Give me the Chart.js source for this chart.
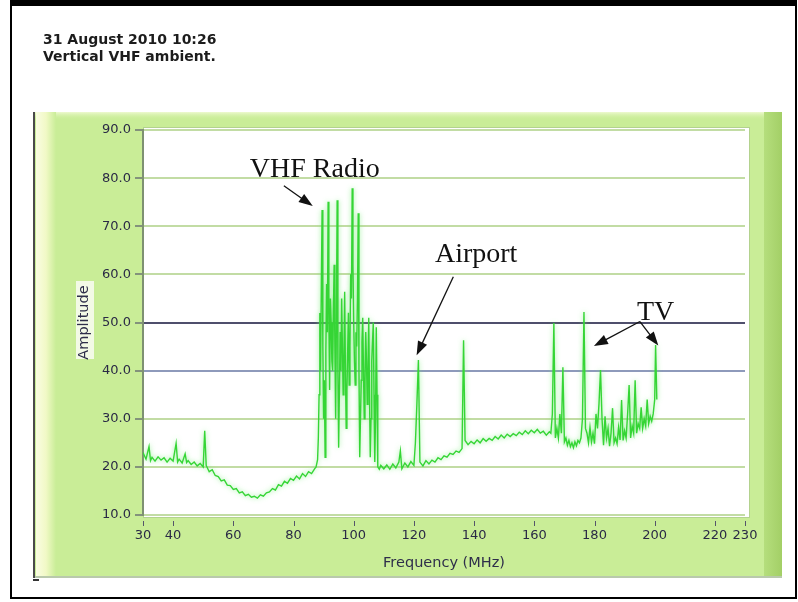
<!DOCTYPE html>
<html>
<head>
<meta charset="utf-8">
<script src="https://cdn.jsdelivr.net/npm/chart.js@4.4.1/dist/chart.umd.min.js"></script>
<style>
  html, body { margin: 0; padding: 0; background: #fff; }
  body { width: 798px; height: 602px; position: relative; overflow: hidden; }
  #frame { position: absolute; left: 10px; top: 0; width: 783px; height: 591px;
           border-top: 6px solid #000; border-left: 2px solid #000;
           border-right: 2px solid #000; border-bottom: 2px solid #000; }
  #hdr { position: absolute; left: 43px; top: 31px; font: bold 14px "DejaVu Sans", sans-serif;
         line-height: 16.5px; color: #1c1c1c; z-index: 2; }
  #dash { position: absolute; left: 33px; top: 579px; width: 6px; height: 2px; background: #333; }
  canvas { position: absolute; left: 0; top: 0; }
</style>
</head>
<body>
<div id="frame"></div>
<div id="hdr">31 August 2010 10:26<br>Vertical VHF ambient.</div>
<div id="dash"></div>
<canvas id="spec" width="798" height="602"></canvas>
<script>
// --- spectrum trace (MHz / amplitude) ---
const freqMHz = [
  30, 31, 32, 32.5, 33, 34, 35, 36, 37, 38, 39, 40, 41, 41.5, 42, 43, 44, 44.5, 45, 46,
  47, 48, 49, 50, 50.5, 51, 52, 53, 54, 55, 56, 57, 58, 59, 60, 61, 62, 63, 64, 65,
  66, 67, 68, 69, 70, 71, 72, 73, 74, 75, 76, 77, 78, 79, 80, 81, 82, 83, 84, 85,
  86, 87, 87.5,
  // FM broadcast band
  88, 88.25, 88.5, 88.75, 89, 89.25, 89.5, 89.75, 90, 90.25, 90.5, 90.75, 91, 91.25, 91.5, 91.75,
  92, 92.25, 92.5, 92.75, 93, 93.25, 93.5, 93.75, 94, 94.25, 94.5, 94.75, 95, 95.25, 95.5, 95.75,
  96, 96.25, 96.5, 96.75, 97, 97.25, 97.5, 97.75, 98, 98.25, 98.5, 98.75, 99, 99.25, 99.5, 99.75,
  100, 100.25, 100.5, 100.75, 101, 101.25, 101.5, 101.75, 102, 102.25, 102.5, 102.75, 103, 103.25, 103.5, 103.75,
  104, 104.25, 104.5, 104.75, 105, 105.25, 105.5, 105.75, 106, 106.25, 106.5, 106.75, 107, 107.25, 107.5, 107.75,
  108, 108.5, 109, 110, 111, 112, 113, 114, 115, 115.5, 116, 117, 118, 119, 120, 120.5, 121,
  121.5, 122, 123, 124, 125, 126, 127, 128, 129, 130, 131, 132, 133, 134, 135, 136, 136.5, 137, 138, 139,
  140, 141, 142, 143, 144, 145, 146, 147, 148, 149, 150, 151, 152, 153, 154, 155, 156, 157, 158, 159,
  160, 161, 162, 163, 164, 165, 165.5, 166, 166.5, 167, 167.5, 168, 168.5, 169, 169.5, 170, 170.5, 171, 171.5, 172,
  172.5, 173, 173.5, 174, 174.5, 175, 175.5, 176, 176.5, 177, 177.5, 178, 178.5, 179, 179.5, 180, 180.5, 181, 181.5, 182,
  182.5, 183, 183.5, 184, 184.5, 185, 185.5, 186, 186.5, 187, 187.5, 188, 188.5, 189, 189.5, 190, 190.5, 191, 191.5, 192,
  192.5, 193, 193.5, 194, 194.5, 195, 195.5, 196, 196.5, 197, 197.5, 198, 198.5, 199, 199.5, 200, 200.3, 200.7
];
const amplitude = [
  23.0, 21.6, 24.2, 21.3, 22.0, 21.2, 22.1, 21.4, 21.9, 21.0, 21.8, 21.2, 24.9, 21.0, 21.6, 20.8, 22.7, 20.9, 21.3, 20.5,
  21.0, 20.2, 20.7, 20.0, 27.5, 20.3, 19.0, 19.4, 18.2, 18.0, 17.1, 17.3, 16.2, 16.1, 15.3, 15.5, 14.6, 14.8, 14.0, 14.3,
  13.7, 13.9, 13.5, 14.2, 13.9, 14.6, 14.8, 15.5, 15.2, 16.3, 16.0, 17.0, 16.6, 17.6, 17.2, 18.1, 17.5, 18.6, 18.0, 19.0,
  18.6, 19.6, 20.0,
  21.5, 26.0, 35.0, 52.0, 40.0, 58.0, 73.4, 45.0, 30.0, 38.0, 22.0, 44.0, 58.0, 48.0, 75.1, 52.0,
  36.0, 55.0, 50.0, 42.0, 40.0, 52.0, 62.0, 45.0, 30.0, 50.0, 75.4, 40.0, 24.0, 36.0, 48.0, 40.0,
  55.0, 45.0, 35.0, 42.0, 56.4, 40.0, 28.0, 36.0, 44.0, 52.0, 37.0, 45.0, 60.0, 55.0, 77.9, 62.0,
  50.0, 42.0, 37.0, 48.0, 45.0, 55.0, 72.7, 40.0, 22.0, 30.0, 38.0, 46.0, 51.0, 40.0, 30.0, 38.0,
  48.0, 42.0, 33.0, 40.0, 51.0, 35.0, 22.0, 30.0, 42.0, 46.0, 50.0, 35.0, 21.0, 30.0, 49.0, 35.0,
  20.0, 19.5, 20.3, 19.6, 20.4, 19.5, 20.6, 19.8, 21.0, 23.3, 19.6, 20.8, 20.0, 21.1, 20.3, 25.0, 33.2,
  42.2, 21.0, 20.2, 21.3, 20.6, 21.4, 21.0, 21.9, 21.5, 22.3, 22.0, 22.8, 22.6, 23.3, 23.0, 23.8, 46.3, 25.5, 24.6, 25.3,
  24.8, 25.6, 25.0, 25.9, 25.3, 25.9, 25.5, 26.3, 25.8, 26.6, 26.0, 26.8, 26.3, 26.9, 26.5, 27.2, 26.7, 27.5, 26.9, 27.6,
  27.1, 27.8, 27.0, 27.4, 26.6, 27.3, 27.0, 31.0, 49.9, 26.0, 28.0, 26.0, 31.0, 27.0, 40.7, 25.2, 26.0, 24.5, 25.5, 24.2,
  25.0, 24.0, 25.2, 24.4, 25.5, 25.0, 26.0, 30.0, 52.2, 28.0, 27.0, 25.0, 28.2, 25.2, 27.0, 24.8, 31.0, 28.0, 33.2, 40.1,
  30.0, 24.5, 30.5, 26.0, 28.0, 24.3, 27.0, 32.2, 25.0, 26.0, 24.8, 28.2, 25.6, 33.9, 25.5, 27.5, 26.0, 31.0, 37.0, 26.0,
  28.5, 27.0, 38.0, 27.0, 29.0, 28.0, 32.4, 28.0, 30.0, 28.5, 34.0, 29.0, 30.5, 29.5, 31.0, 34.0, 45.3, 34.0
];

const xTicks = [30, 40, 60, 80, 100, 120, 140, 160, 180, 200, 220, 230];
const yTicks = [10, 20, 30, 40, 50, 60, 70, 80, 90];

// callouts, anchored in data units (text at baseline-left, arrow from -> to)
const notes = [
  { text: 'VHF Radio', at: [65.5, 80.2], arrows: [[[76.8, 78.4], [86.4, 74.2]]] },
  { text: 'Airport',   at: [127.0, 62.6], arrows: [[[133.1, 59.5], [120.9, 43.2]]] },
  { text: 'TV',        at: [194.1, 50.5], arrows: [[[195.1, 50.2], [179.8, 45.1]], [[195.1, 50.2], [201.2, 45.2]]] }
];

const LABEL_FONT = { family: 'DejaVu Sans', size: 13 };
const TITLE_FONT = { family: 'DejaVu Sans', size: 14.5 };

// green instrument panel behind the plot
const panelPlugin = {
  id: 'panel',
  beforeDraw(chart) {
    const { ctx, chartArea: a } = chart;
    ctx.save();
    ctx.fillStyle = '#c9ed97';
    ctx.fillRect(34, 112, 748, 464);
    // pale top edge
    let g = ctx.createLinearGradient(0, 112, 0, 120);
    g.addColorStop(0, '#eef9cf');
    g.addColorStop(1, 'rgba(201,237,151,0)');
    ctx.fillStyle = g;
    ctx.fillRect(34, 112, 748, 8);
    // pale yellow stripe on the left
    g = ctx.createLinearGradient(36, 0, 56, 0);
    g.addColorStop(0, '#fafde2');
    g.addColorStop(0.5, '#f1f9c6');
    g.addColorStop(1, '#c9ed97');
    ctx.fillStyle = g;
    ctx.fillRect(36, 112, 20, 464);
    // darker stripe on the right
    g = ctx.createLinearGradient(764, 0, 782, 0);
    g.addColorStop(0, '#b5de7d');
    g.addColorStop(1, '#a3cf66');
    ctx.fillStyle = g;
    ctx.fillRect(764, 112, 18, 464);
    ctx.fillStyle = '#4a4a4a';
    ctx.fillRect(33, 112, 2, 466);
    ctx.fillStyle = '#b9c9ac';
    ctx.fillRect(35, 576, 747, 2);
    // box behind the y title
    ctx.fillStyle = '#f3fae6';
    ctx.fillRect(76, 281, 18, 78);
    // plot background
    ctx.fillStyle = '#ffffff';
    ctx.fillRect(a.left, a.top - 2, a.width + 4, a.height + 5);
    ctx.strokeStyle = '#b3d28e';
    ctx.lineWidth = 1;
    ctx.strokeRect(a.left + 0.5, a.top - 2.5, a.width + 4, a.height + 5);
    ctx.restore();
  },
  afterDraw(chart) {
    // small x tick marks sitting under the plot
    const { ctx, chartArea: a, scales: { x } } = chart;
    ctx.save();
    ctx.strokeStyle = '#55556a';
    ctx.lineWidth = 1;
    xTicks.forEach(v => {
      const px = Math.round(x.getPixelForValue(v)) + 0.5;
      ctx.beginPath();
      ctx.moveTo(px, a.bottom + 6);
      ctx.lineTo(px, a.bottom + 11);
      ctx.stroke();
    });
    ctx.restore();
  }
};

// soft halo round the trace
const glowPlugin = {
  id: 'glow',
  beforeDatasetsDraw(chart) {
    const ctx = chart.ctx;
    ctx.save();
    ctx.shadowColor = 'rgba(110,235,110,0.75)';
    ctx.shadowBlur = 5;
  },
  afterDatasetsDraw(chart) {
    chart.ctx.restore();
  }
};

function drawArrow(ctx, x1, y1, x2, y2) {
  const ang = Math.atan2(y2 - y1, x2 - x1);
  const L = 14, W = 5;
  ctx.beginPath();
  ctx.moveTo(x1, y1);
  ctx.lineTo(x2 - (L - 2) * Math.cos(ang), y2 - (L - 2) * Math.sin(ang));
  ctx.stroke();
  ctx.beginPath();
  ctx.moveTo(x2, y2);
  ctx.lineTo(x2 - L * Math.cos(ang) + W * Math.sin(ang), y2 - L * Math.sin(ang) - W * Math.cos(ang));
  ctx.lineTo(x2 - L * Math.cos(ang) - W * Math.sin(ang), y2 - L * Math.sin(ang) + W * Math.cos(ang));
  ctx.closePath();
  ctx.fill();
}

const notesPlugin = {
  id: 'notes',
  afterDatasetsDraw(chart) {
    const { ctx, scales: { x, y } } = chart;
    ctx.save();
    ctx.fillStyle = '#111';
    ctx.strokeStyle = '#111';
    ctx.lineWidth = 1.3;
    ctx.font = '28px "Liberation Serif", serif';
    ctx.textBaseline = 'alphabetic';
    notes.forEach(n => {
      ctx.fillText(n.text, x.getPixelForValue(n.at[0]), y.getPixelForValue(n.at[1]));
      n.arrows.forEach(([p, q]) => {
        drawArrow(ctx, x.getPixelForValue(p[0]), y.getPixelForValue(p[1]),
                       x.getPixelForValue(q[0]), y.getPixelForValue(q[1]));
      });
    });
    ctx.restore();
  }
};

const gridColour = v => (v === 50 ? '#4f4f6c' : v === 40 ? '#8e9abb' : '#c2dca4');

new Chart(document.getElementById('spec'), {
  type: 'line',
  data: {
    datasets: [{
      data: freqMHz.map((f, i) => ({ x: f, y: amplitude[i] })),
      borderColor: '#35d535',
      borderWidth: 1.4,
      pointRadius: 0,
      tension: 0
    }]
  },
  options: {
    responsive: false,
    animation: false,
    layout: { padding: { top: 130, right: 53, left: 76, bottom: 30 } },
    plugins: { legend: { display: false }, tooltip: { enabled: false } },
    scales: {
      x: {
        type: 'linear',
        min: 30,
        max: 230,
        afterBuildTicks: s => { s.ticks = xTicks.map(v => ({ value: v })); },
        afterFit: s => { s.height = 57; },
        grid: { drawOnChartArea: false, drawTicks: false },
        border: { display: false },
        ticks: { autoSkip: false, maxRotation: 0, padding: 13, color: '#2a2a45', font: LABEL_FONT },
        title: { display: true, text: 'Frequency (MHz)', color: '#2e2e4a', font: TITLE_FONT, padding: 0 }
      },
      y: {
        min: 10,
        max: 90,
        afterBuildTicks: s => { s.ticks = yTicks.map(v => ({ value: v })); },
        afterFit: s => { s.width = 67; },
        grid: {
          color: c => gridColour(c.tick.value),
          lineWidth: 2,
          tickColor: '#55556a',
          tickLength: 8,
          tickWidth: 1.2
        },
        border: { color: '#7e9172', width: 2 },
        ticks: { callback: v => v.toFixed(1), padding: 4, color: '#2a2a45', font: LABEL_FONT },
        title: { display: true, text: 'Amplitude', color: '#2e2e4a', font: TITLE_FONT, padding: 0 }
      }
    }
  },
  plugins: [panelPlugin, glowPlugin, notesPlugin]
});
</script>
</body>
</html>
